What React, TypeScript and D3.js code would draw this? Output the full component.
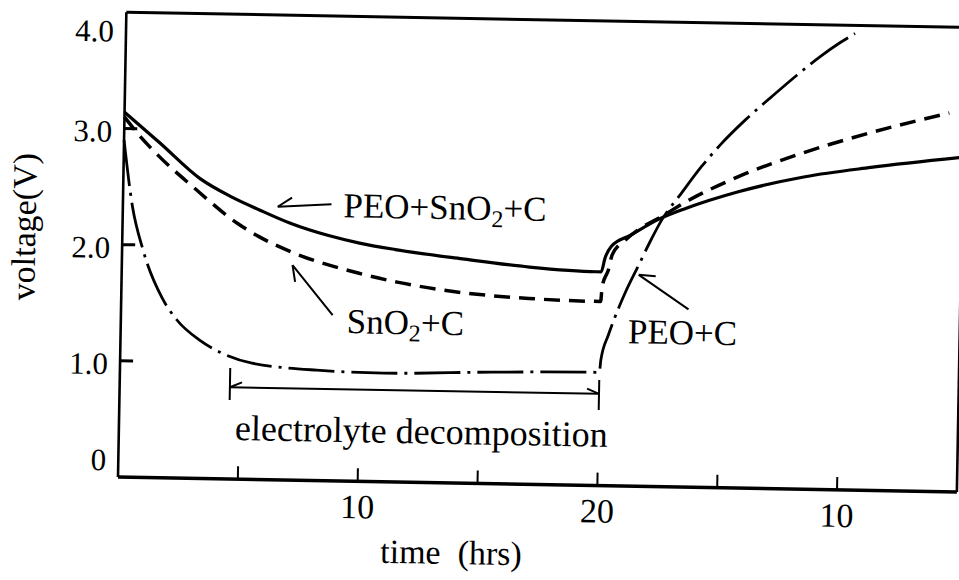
import React from "react";
import * as d3 from "d3";

// ---- data (time in hours, voltage in V) ----
const CHARGE_START = 20; // charge time axis restarts at 20 h of discharge

const xTicks = [5, 10, 15, 20, 25, 30];
const xTickLabels = ["", "10", "", "20", "", "10"];
const yTicks = [0, 1, 2, 3, 4];
const yTickLabels = ["0", "1.0", "2.0", "3.0", "4.0"];

// PEO+SnO2+C (solid)
const solidDisT = [0, 1.5, 3.2, 4.5, 5.7, 7.0, 8.6, 9.9, 11.4, 14.2, 17.0, 19.8];
const solidDisV = [3.14, 2.88, 2.58, 2.43, 2.32, 2.21, 2.11, 2.05, 2.0, 1.93, 1.87, 1.84];
const solidChT = [0, 0.15, 0.4, 1.2, 2.35, 3.5, 5.66, 8.43, 11.17, 14.95];
const solidChV = [1.84, 1.96, 2.06, 2.16, 2.3, 2.4, 2.55, 2.69, 2.78, 2.88];

// SnO2+C (dashed)
const dashDisT = [0, 0.6, 1.4, 2.9, 4.8, 5.7, 7.1, 9.9, 11.5, 14.2, 17.0, 19.7];
const dashDisV = [3.1, 2.95, 2.78, 2.51, 2.2, 2.09, 1.96, 1.79, 1.72, 1.64, 1.6, 1.585];
const dashChT = [0, 0.05, 0.3, 0.45, 1.0, 1.6, 2.35, 3.6, 5.65, 8.4, 11.15, 14.4];
const dashChV = [1.585, 1.71, 1.86, 1.99, 2.12, 2.22, 2.31, 2.47, 2.68, 2.9, 3.08, 3.26];

// PEO+C (dash-dot)
const ddDisT = [0, 0.4, 0.87, 1.7, 2.34, 3.3, 4.15, 5.5, 8.2, 11.0, 15.5, 19.85];
const ddDisV = [2.9, 2.33, 1.96, 1.55, 1.36, 1.19, 1.09, 1.0, 0.95, 0.935, 0.96, 0.975];
const ddChT = [0, 0.05, 0.35, 0.55, 1.03, 1.55, 2.0, 2.47, 3.29, 4.1, 4.91, 5.9, 6.96, 8.0, 9.0, 9.8, 10.41];
const ddChV = [0.975, 1.08, 1.3, 1.42, 1.67, 1.9, 2.1, 2.29, 2.53, 2.76, 2.96, 3.17, 3.37, 3.56, 3.73, 3.85, 3.93];

// annotation anchors (data units: [time, voltage])
const labelPeoSnoC = { text: [9.2, 2.27], tail: [8.7, 2.38], tip: [6.46, 2.35], barb: -1 };
const labelSnoC = { text: [9.42, 1.274], tail: [8.83, 1.426], tip: [7.12, 1.85], barb: 1 };
const labelPeoC = { text: [21.16, 1.23], tail: [23.67, 1.53], tip: [21.57, 1.82], barb: -1 };
const decompStart = 4.6;
const decompEnd = 20;
const decompV = 0.79;
const decompText = [4.84, 0.336];

const FONT = "'Liberation Serif', 'Times New Roman', serif";

const W = 839;
const H = 464.8;
const x = d3.scaleLinear().domain([0, 35]).range([0, W]);
const y = d3.scaleLinear().domain([0, 4]).range([0, -H]);

const mk = (dt: number[], dv: number[], ct: number[], cv: number[]) =>
  dt.map((t, i) => [t, dv[i]] as [number, number]).concat(
    ct.map((t, i) => [CHARGE_START + t, cv[i]] as [number, number])
  );

const series = [
  { pts: mk(solidDisT, solidDisV, solidChT, solidChV), dash: "none", w: 3.2 },
  { pts: mk(dashDisT, dashDisV, dashChT, dashChV), dash: "16 9", w: 3.5 },
  { pts: mk(ddDisT, ddDisV, ddChT, ddChV), dash: "46 7 3 7", w: 2.8 },
];

const line = d3
  .line<[number, number]>()
  .x((d) => x(d[0]))
  .y((d) => y(d[1]))
  .curve(d3.curveMonotoneX);

function Arrow({ tail, tip, barb, len = 17 }: { tail: number[]; tip: number[]; barb: number; len?: number }) {
  const x1 = x(tail[0]), y1 = y(tail[1]);
  const x2 = x(tip[0]), y2 = y(tip[1]);
  const ang = Math.atan2(y1 - y2, x1 - x2);
  const a = ang + barb * (Math.PI / 6);
  const bx = x2 + len * Math.cos(a);
  const by = y2 + len * Math.sin(a);
  return (
    <g stroke="#000" strokeWidth={2} fill="none">
      <line x1={x1} y1={y1} x2={x2} y2={y2} />
      <line x1={x2} y1={y2} x2={bx} y2={by} />
    </g>
  );
}

export default function App() {
  const x0 = x(decompStart), x1 = x(decompEnd), yb = y(decompV);
  return (
    <svg
      width={959}
      height={580}
      style={{ position: "absolute", left: 0, top: 0, background: "#fff", fontFamily: FONT }}
    >
      <rect x={0} y={0} width={959} height={580} fill="#fff" />
      <g transform="translate(118,477) rotate(1.03)" style={{ fontFamily: FONT }}>
        {/* frame */}
        <line x1={x(0)} y1={y(0)} x2={x(35)} y2={y(0)} stroke="#000" strokeWidth={3.5} />
        <line x1={x(0)} y1={y(0)} x2={x(0)} y2={y(4)} stroke="#000" strokeWidth={2.6} />
        <line x1={x(0)} y1={y(4)} x2={x(35)} y2={y(4)} stroke="#000" strokeWidth={3} />
        <line x1={x(35)} y1={y(0)} x2={x(35)} y2={y(4)} stroke="#000" strokeWidth={2.6} />

        {/* x ticks */}
        {xTicks.map((t, i) => (
          <g key={"xt" + i}>
            <line x1={x(t)} y1={0} x2={x(t)} y2={-13} stroke="#000" strokeWidth={2} />
            <text x={x(t)} y={37} textAnchor="middle" fontSize={34}>
              {xTickLabels[i]}
            </text>
          </g>
        ))}
        {/* y ticks */}
        {yTicks.map((v, i) => (
          <g key={"yt" + i}>
            {v > 0 && v < 4 && (
              <line x1={0} y1={y(v)} x2={13} y2={y(v)} stroke="#000" strokeWidth={3} />
            )}
            <text
              x={-12}
              y={v === 4 ? y(v) + 19 : v === 0 ? y(v) - 17 : y(v) + 3}
              textAnchor="end"
              dominantBaseline="central"
              fontSize={31}
            >
              {yTickLabels[i]}
            </text>
          </g>
        ))}

        {/* axis titles */}
        <text
          transform={`translate(-87,${y(2.14)}) rotate(-90)`}
          textAnchor="middle"
          fontSize={34}
        >
          voltage(V)
        </text>
        <text x={263.5} y={81} fontSize={34}>
          {"time\u00a0\u00a0(hrs)"}
        </text>

        {/* curves */}
        {series.map((s, i) => (
          <path
            key={"s" + i}
            d={line(s.pts) || ""}
            fill="none"
            stroke="#000"
            strokeWidth={s.w}
            strokeDasharray={s.dash}
          />
        ))}

        {/* annotations */}
        <Arrow tail={labelPeoSnoC.tail} tip={labelPeoSnoC.tip} barb={labelPeoSnoC.barb} />
        <text x={x(labelPeoSnoC.text[0])} y={y(labelPeoSnoC.text[1])} fontSize={35}>
          <tspan>PEO+SnO</tspan>
          <tspan dy={7} fontSize={24}>2</tspan>
          <tspan dy={-7}>+C</tspan>
        </text>

        <Arrow tail={labelSnoC.tail} tip={labelSnoC.tip} barb={labelSnoC.barb} />
        <text x={x(labelSnoC.text[0])} y={y(labelSnoC.text[1])} fontSize={35}>
          <tspan>SnO</tspan>
          <tspan dy={7} fontSize={24}>2</tspan>
          <tspan dy={-7}>+C</tspan>
        </text>

        <Arrow tail={labelPeoC.tail} tip={labelPeoC.tip} barb={labelPeoC.barb} />
        <text x={x(labelPeoC.text[0])} y={y(labelPeoC.text[1])} fontSize={35}>
          PEO+C
        </text>

        {/* electrolyte decomposition bracket */}
        <g stroke="#000" strokeWidth={2} fill="none">
          <line x1={x0} y1={yb} x2={x1} y2={yb} />
          <line x1={x0} y1={y(0.68)} x2={x0} y2={y(0.955)} />
          <line x1={x1} y1={y(0.65)} x2={x1} y2={y(0.91)} />
          <line x1={x0} y1={yb} x2={x0 + 12} y2={yb - 5} />
          <line x1={x1} y1={yb} x2={x1 - 12} y2={yb - 5} />
        </g>
        <text x={x(decompText[0])} y={y(decompText[1])} fontSize={36}>
          electrolyte decomposition
        </text>
      </g>
    </svg>
  );
}
